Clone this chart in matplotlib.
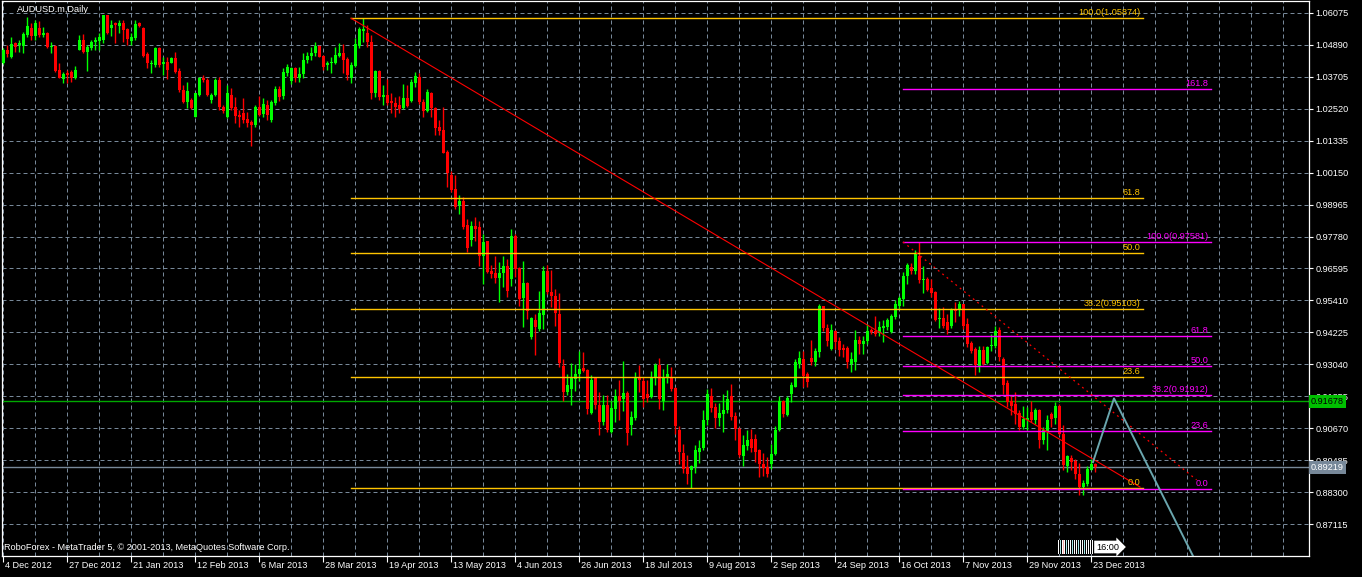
import numpy as np
import matplotlib
matplotlib.use('Agg')
import matplotlib.pyplot as plt
import matplotlib.transforms as mtransforms
from matplotlib.patches import Rectangle

plt.rcParams['font.family'] = ['Liberation Sans', 'DejaVu Sans']

# --- AUDUSD.m daily bars, 4 Dec 2012 .. 24 Dec 2013 ---
opens = [
    1.0420, 1.0471, 1.0442, 1.0496, 1.0487, 1.0484, 1.0524, 1.0549, 1.0521, 1.0549,
    1.0524, 1.0534, 1.0479, 1.0485, 1.0397, 1.0360, 1.0383, 1.0389, 1.0364, 1.0471,
    1.0506, 1.0463, 1.0475, 1.0500, 1.0503, 1.0508, 1.0598, 1.0549, 1.0568, 1.0559,
    1.0571, 1.0547, 1.0502, 1.0512, 1.0568, 1.0549, 1.0454, 1.0416, 1.0413, 1.0475,
    1.0416, 1.0423, 1.0422, 1.0441, 1.0391, 1.0321, 1.0278, 1.0284, 1.0220, 1.0302,
    1.0366, 1.0358, 1.0284, 1.0302, 1.0358, 1.0259, 1.0222, 1.0302, 1.0257, 1.0228,
    1.0237, 1.0214, 1.0204, 1.0191, 1.0257, 1.0232, 1.0265, 1.0210, 1.0274, 1.0325,
    1.0299, 1.0383, 1.0354, 1.0404, 1.0364, 1.0379, 1.0432, 1.0448, 1.0457, 1.0484,
    1.0447, 1.0413, 1.0420, 1.0422, 1.0447, 1.0460, 1.0436, 1.0364, 1.0410, 1.0484,
    1.0539, 1.0531, 1.0500, 1.0309, 1.0392, 1.0296, 1.0302, 1.0281, 1.0274, 1.0264,
    1.0253, 1.0290, 1.0281, 1.0348, 1.0370, 1.0278, 1.0244, 1.0309, 1.0255, 1.0185,
    1.0173, 1.0093, 1.0006, 0.9954, 0.9895, 0.9911, 0.9821, 0.9765, 0.9818, 0.9814,
    0.9707, 0.9760, 0.9651, 0.9642, 0.9624, 0.9642, 0.9670, 0.9621, 0.9781, 0.9660,
    0.9549, 0.9605, 0.9404, 0.9469, 0.9436, 0.9487, 0.9651, 0.9571, 0.9559, 0.9491,
    0.9297, 0.9201, 0.9213, 0.9250, 0.9269, 0.9290, 0.9284, 0.9123, 0.9254, 0.9155,
    0.9090, 0.9155, 0.9053, 0.9139, 0.9185, 0.9176, 0.9197, 0.9081, 0.9106, 0.9259,
    0.9244, 0.9195, 0.9183, 0.9257, 0.9303, 0.9170, 0.9254, 0.9259, 0.9217, 0.9060,
    0.8976, 0.8924, 0.8914, 0.8924, 0.8979, 0.8995, 0.9097, 0.9185, 0.9146, 0.9106,
    0.9119, 0.9134, 0.9185, 0.9111, 0.9066, 0.8963, 0.9000, 0.9029, 0.9029, 0.8986,
    0.8936, 0.8924, 0.8936, 0.8971, 0.9060, 0.9168, 0.9115, 0.9195, 0.9222, 0.9306,
    0.9325, 0.9267, 0.9327, 0.9313, 0.9350, 0.9519, 0.9440, 0.9362, 0.9427, 0.9390,
    0.9366, 0.9366, 0.9304, 0.9313, 0.9396, 0.9378, 0.9390, 0.9432, 0.9427, 0.9424,
    0.9440, 0.9442, 0.9424, 0.9479, 0.9519, 0.9547, 0.9633, 0.9664, 0.9652, 0.9704,
    0.9615, 0.9621, 0.9588, 0.9572, 0.9473, 0.9477, 0.9461, 0.9448, 0.9506, 0.9504,
    0.9526, 0.9452, 0.9383, 0.9362, 0.9294, 0.9356, 0.9309, 0.9371, 0.9371, 0.9430,
    0.9325, 0.9235, 0.9168, 0.9156, 0.9124, 0.9072, 0.9099, 0.9127, 0.9099, 0.9134,
    0.9023, 0.9057, 0.9119, 0.9106, 0.9148, 0.9047, 0.8926, 0.8958, 0.8946, 0.8897,
    0.8850, 0.8860, 0.8914, 0.8934,
]
highs = [
    1.0475, 1.0487, 1.0518, 1.0500, 1.0506, 1.0537, 1.0590, 1.0568, 1.0580, 1.0576,
    1.0555, 1.0537, 1.0500, 1.0487, 1.0420, 1.0389, 1.0395, 1.0397, 1.0410, 1.0524,
    1.0528, 1.0487, 1.0508, 1.0518, 1.0533, 1.0598, 1.0598, 1.0580, 1.0574, 1.0580,
    1.0580, 1.0549, 1.0531, 1.0580, 1.0574, 1.0553, 1.0463, 1.0432, 1.0479, 1.0479,
    1.0444, 1.0444, 1.0444, 1.0463, 1.0401, 1.0339, 1.0352, 1.0290, 1.0309, 1.0370,
    1.0376, 1.0364, 1.0311, 1.0367, 1.0370, 1.0265, 1.0339, 1.0327, 1.0294, 1.0247,
    1.0290, 1.0241, 1.0210, 1.0265, 1.0299, 1.0290, 1.0284, 1.0284, 1.0336, 1.0336,
    1.0401, 1.0417, 1.0407, 1.0407, 1.0407, 1.0459, 1.0463, 1.0479, 1.0500, 1.0487,
    1.0450, 1.0429, 1.0444, 1.0481, 1.0497, 1.0491, 1.0444, 1.0426, 1.0512, 1.0555,
    1.0587, 1.0561, 1.0524, 1.0397, 1.0395, 1.0339, 1.0360, 1.0309, 1.0296, 1.0299,
    1.0343, 1.0339, 1.0360, 1.0387, 1.0383, 1.0286, 1.0323, 1.0315, 1.0259, 1.0210,
    1.0257, 1.0099, 1.0019, 1.0006, 0.9933, 0.9923, 0.9843, 0.9837, 0.9851, 0.9837,
    0.9787, 0.9763, 0.9674, 0.9707, 0.9682, 0.9707, 0.9695, 0.9806, 0.9787, 0.9664,
    0.9686, 0.9608, 0.9479, 0.9491, 0.9575, 0.9670, 0.9674, 0.9654, 0.9584, 0.9568,
    0.9324, 0.9269, 0.9308, 0.9306, 0.9352, 0.9349, 0.9287, 0.9263, 0.9259, 0.9201,
    0.9192, 0.9189, 0.9170, 0.9213, 0.9247, 0.9316, 0.9205, 0.9131, 0.9275, 0.9300,
    0.9259, 0.9247, 0.9279, 0.9308, 0.9328, 0.9287, 0.9306, 0.9296, 0.9222, 0.9074,
    0.9010, 0.8967, 0.8930, 0.9004, 0.9022, 0.9134, 0.9214, 0.9218, 0.9161, 0.9161,
    0.9195, 0.9210, 0.9230, 0.9127, 0.9072, 0.9041, 0.9060, 0.9066, 0.9045, 0.8992,
    0.8976, 0.8961, 0.9010, 0.9074, 0.9185, 0.9173, 0.9185, 0.9239, 0.9325, 0.9353,
    0.9353, 0.9276, 0.9393, 0.9366, 0.9526, 0.9522, 0.9454, 0.9454, 0.9432, 0.9405,
    0.9380, 0.9371, 0.9350, 0.9432, 0.9408, 0.9408, 0.9454, 0.9440, 0.9482, 0.9464,
    0.9469, 0.9477, 0.9489, 0.9543, 0.9556, 0.9646, 0.9679, 0.9679, 0.9728, 0.9758,
    0.9670, 0.9627, 0.9621, 0.9575, 0.9514, 0.9516, 0.9492, 0.9514, 0.9535, 0.9538,
    0.9529, 0.9477, 0.9390, 0.9368, 0.9371, 0.9371, 0.9374, 0.9417, 0.9445, 0.9442,
    0.9331, 0.9247, 0.9185, 0.9201, 0.9136, 0.9148, 0.9146, 0.9168, 0.9143, 0.9140,
    0.9072, 0.9115, 0.9127, 0.9164, 0.9158, 0.9078, 0.8967, 0.8967, 0.8955, 0.8939,
    0.8875, 0.8926, 0.8955, 0.8939,
]
lows = [
    1.0417, 1.0444, 1.0438, 1.0463, 1.0463, 1.0459, 1.0518, 1.0506, 1.0506, 1.0518,
    1.0518, 1.0475, 1.0457, 1.0389, 1.0364, 1.0346, 1.0346, 1.0352, 1.0360, 1.0469,
    1.0459, 1.0391, 1.0469, 1.0469, 1.0471, 1.0494, 1.0528, 1.0521, 1.0494, 1.0531,
    1.0500, 1.0487, 1.0487, 1.0508, 1.0553, 1.0444, 1.0401, 1.0385, 1.0407, 1.0407,
    1.0376, 1.0360, 1.0420, 1.0383, 1.0315, 1.0272, 1.0253, 1.0249, 1.0220, 1.0299,
    1.0352, 1.0299, 1.0272, 1.0299, 1.0247, 1.0234, 1.0216, 1.0247, 1.0200, 1.0183,
    1.0197, 1.0183, 1.0114, 1.0185, 1.0225, 1.0222, 1.0210, 1.0204, 1.0265, 1.0281,
    1.0286, 1.0373, 1.0343, 1.0352, 1.0352, 1.0364, 1.0420, 1.0432, 1.0447, 1.0442,
    1.0395, 1.0397, 1.0385, 1.0417, 1.0444, 1.0385, 1.0358, 1.0348, 1.0407, 1.0475,
    1.0500, 1.0479, 1.0286, 1.0294, 1.0284, 1.0265, 1.0265, 1.0237, 1.0222, 1.0234,
    1.0249, 1.0259, 1.0278, 1.0331, 1.0269, 1.0222, 1.0239, 1.0222, 1.0154, 1.0154,
    1.0089, 0.9961, 0.9944, 0.9879, 0.9861, 0.9806, 0.9719, 0.9744, 0.9763, 0.9670,
    0.9602, 0.9642, 0.9624, 0.9605, 0.9534, 0.9590, 0.9555, 0.9596, 0.9627, 0.9522,
    0.9442, 0.9473, 0.9398, 0.9337, 0.9429, 0.9436, 0.9565, 0.9516, 0.9448, 0.9294,
    0.9170, 0.9189, 0.9155, 0.9207, 0.9244, 0.9275, 0.9121, 0.9121, 0.9139, 0.9044,
    0.9078, 0.9053, 0.9049, 0.9090, 0.9099, 0.9131, 0.9007, 0.9044, 0.9099, 0.9201,
    0.9146, 0.9164, 0.9180, 0.9229, 0.9139, 0.9136, 0.9234, 0.9205, 0.9047, 0.8936,
    0.8902, 0.8862, 0.8844, 0.8902, 0.8939, 0.8988, 0.9078, 0.9127, 0.9069, 0.9074,
    0.9053, 0.9124, 0.9097, 0.9025, 0.8961, 0.8926, 0.8986, 0.8979, 0.8942, 0.8887,
    0.8889, 0.8887, 0.8918, 0.8967, 0.9057, 0.9109, 0.9111, 0.9164, 0.9220, 0.9292,
    0.9220, 0.9220, 0.9300, 0.9297, 0.9331, 0.9427, 0.9374, 0.9356, 0.9362, 0.9334,
    0.9331, 0.9292, 0.9276, 0.9282, 0.9343, 0.9343, 0.9380, 0.9417, 0.9408, 0.9411,
    0.9387, 0.9430, 0.9420, 0.9473, 0.9510, 0.9522, 0.9603, 0.9640, 0.9640, 0.9605,
    0.9568, 0.9575, 0.9553, 0.9464, 0.9440, 0.9440, 0.9417, 0.9440, 0.9461, 0.9482,
    0.9436, 0.9368, 0.9346, 0.9263, 0.9276, 0.9300, 0.9304, 0.9353, 0.9366, 0.9316,
    0.9195, 0.9146, 0.9115, 0.9084, 0.9060, 0.9066, 0.9060, 0.9090, 0.9084, 0.8995,
    0.9008, 0.8986, 0.9072, 0.9084, 0.9041, 0.8912, 0.8905, 0.8912, 0.8881, 0.8819,
    0.8819, 0.8852, 0.8912, 0.8905,
]
closes = [
    1.0471, 1.0453, 1.0490, 1.0479, 1.0494, 1.0528, 1.0558, 1.0521, 1.0568, 1.0524,
    1.0533, 1.0479, 1.0484, 1.0391, 1.0366, 1.0380, 1.0376, 1.0364, 1.0395, 1.0506,
    1.0463, 1.0479, 1.0500, 1.0508, 1.0516, 1.0598, 1.0531, 1.0561, 1.0561, 1.0571,
    1.0545, 1.0510, 1.0518, 1.0565, 1.0559, 1.0448, 1.0422, 1.0420, 1.0475, 1.0413,
    1.0423, 1.0395, 1.0438, 1.0389, 1.0321, 1.0278, 1.0318, 1.0253, 1.0309, 1.0364,
    1.0358, 1.0302, 1.0302, 1.0358, 1.0257, 1.0243, 1.0309, 1.0253, 1.0225, 1.0222,
    1.0210, 1.0197, 1.0191, 1.0257, 1.0228, 1.0268, 1.0228, 1.0276, 1.0325, 1.0296,
    1.0387, 1.0407, 1.0404, 1.0364, 1.0379, 1.0434, 1.0447, 1.0459, 1.0484, 1.0444,
    1.0407, 1.0420, 1.0426, 1.0450, 1.0460, 1.0432, 1.0376, 1.0413, 1.0491, 1.0547,
    1.0547, 1.0500, 1.0311, 1.0392, 1.0294, 1.0302, 1.0272, 1.0274, 1.0259, 1.0249,
    1.0292, 1.0262, 1.0352, 1.0373, 1.0278, 1.0244, 1.0315, 1.0253, 1.0181, 1.0170,
    1.0089, 1.0015, 0.9951, 0.9889, 0.9911, 0.9814, 0.9734, 0.9818, 0.9806, 0.9707,
    0.9756, 0.9645, 0.9639, 0.9624, 0.9642, 0.9670, 0.9577, 0.9781, 0.9658, 0.9547,
    0.9605, 0.9501, 0.9475, 0.9442, 0.9494, 0.9651, 0.9574, 0.9559, 0.9494, 0.9308,
    0.9201, 0.9226, 0.9259, 0.9269, 0.9287, 0.9281, 0.9139, 0.9247, 0.9152, 0.9090,
    0.9152, 0.9059, 0.9143, 0.9185, 0.9170, 0.9197, 0.9049, 0.9109, 0.9259, 0.9247,
    0.9176, 0.9180, 0.9257, 0.9303, 0.9176, 0.9254, 0.9269, 0.9213, 0.9074, 0.8979,
    0.8918, 0.8899, 0.8926, 0.8986, 0.8995, 0.9097, 0.9193, 0.9143, 0.9106, 0.9124,
    0.9136, 0.9177, 0.9109, 0.9066, 0.8967, 0.9004, 0.9023, 0.8995, 0.8979, 0.8934,
    0.8921, 0.8897, 0.8973, 0.9062, 0.9168, 0.9119, 0.9180, 0.9226, 0.9313, 0.9329,
    0.9261, 0.9239, 0.9313, 0.9353, 0.9522, 0.9440, 0.9390, 0.9432, 0.9387, 0.9358,
    0.9358, 0.9313, 0.9325, 0.9396, 0.9380, 0.9390, 0.9427, 0.9424, 0.9417, 0.9442,
    0.9448, 0.9467, 0.9485, 0.9526, 0.9551, 0.9633, 0.9674, 0.9649, 0.9714, 0.9617,
    0.9617, 0.9578, 0.9568, 0.9469, 0.9477, 0.9448, 0.9432, 0.9506, 0.9501, 0.9526,
    0.9448, 0.9378, 0.9353, 0.9300, 0.9356, 0.9306, 0.9368, 0.9374, 0.9427, 0.9331,
    0.9226, 0.9164, 0.9148, 0.9119, 0.9072, 0.9103, 0.9106, 0.9097, 0.9134, 0.9025,
    0.9060, 0.9099, 0.9103, 0.9148, 0.9045, 0.8930, 0.8963, 0.8942, 0.8897, 0.8850,
    0.8865, 0.8918, 0.8934, 0.8922,
]

date_labels = ['4 Dec 2012', '27 Dec 2012', '21 Jan 2013', '12 Feb 2013', '6 Mar 2013',
               '28 Mar 2013', '19 Apr 2013', '13 May 2013', '4 Jun 2013', '26 Jun 2013',
               '18 Jul 2013', '9 Aug 2013', '2 Sep 2013', '24 Sep 2013', '16 Oct 2013',
               '7 Nov 2013', '29 Nov 2013', '23 Dec 2013']
price_ticks = [0.87115, 0.88300, 0.89485, 0.90670, 0.91855, 0.93040, 0.94225, 0.95410,
               0.96595, 0.97780, 0.98965, 1.00150, 1.01335, 1.02520, 1.03705, 1.04890, 1.06075]

# Fibonacci retracements: (bar_from, bar_to, price at 0 level, price at 100 level)
fib_levels_orange = [0.0, 23.6, 38.2, 50.0, 61.8, 100.0]
fib_orange = (87, 285, 0.88445, 1.05874)
fib_levels_magenta = [0.0, 23.6, 38.2, 50.0, 61.8, 100.0, 161.8]
fib_magenta = (225, 302, 0.88408, 0.97581)

# trend lines (bar, price)
trend_solid = [(87, 1.0587), (284.25, 0.88495)]
trend_dotted = [(225, 0.9758), (298.4, 0.8876)]
projection = [(272.5, 0.8942), (277.75, 0.9178), (300.0, 0.8520)]

bid_price = 0.89219
hline_price = 0.91678

# --- drawing ---
BG = 'black'
GRID = '#778899'
UP = '#00ff00'
DOWN = '#ff0000'
ORANGE = '#ffc400'
MAGENTA = '#ff00ff'
FS = 6.6
LW = 0.72   # 1 px at 100 dpi
LW_OBJ = 1.0

W, H = 1362, 577
fig = plt.figure(figsize=(W / 100, H / 100), dpi=100, facecolor=BG)
ax = fig.add_axes([2 / W, 21 / H, 1307 / W, 555 / H], facecolor=BG)
n = len(closes)
idx = np.arange(n)
o = np.array(opens)
c = np.array(closes)
hi = np.array(highs)
lo = np.array(lows)

ax.set_xlim(-0.25, 326.5)
ax.set_ylim(0.85938, 1.06509)

# grid
for p in price_ticks:
    ax.axhline(p, color=GRID, lw=LW, ls=(0, (4, 3)), zorder=0)
for k in range(0, 41):
    ax.axvline(8 * k, color=GRID, lw=LW, ls=(0, (4, 3)), zorder=0)

# candles: 1px wick, 3px body
col = np.where(c >= o, UP, DOWN)
ax.vlines(idx, lo, hi, colors=col, lw=LW_OBJ, zorder=3)
body = np.maximum(np.abs(c - o), 0.0004)
ax.bar(idx, body, bottom=np.minimum(o, c), width=0.75, color=col, lw=0, zorder=3)

# horizontal price lines
ax.axhline(hline_price, color='#00a800', lw=LW_OBJ, zorder=2)
ax.axhline(bid_price, color=GRID, lw=LW_OBJ, zorder=2)


def draw_fib(spec, levels, color, full_label):
    x0, x1, p0, p100 = spec
    for lv in levels:
        price = p0 + (p100 - p0) * lv / 100.0
        ax.plot([x0, x1], [price, price], color=color, lw=LW_OBJ, zorder=4)
        txt = f'{lv:.1f}'
        if lv in full_label:
            txt = f'{lv:.1f}({price:.5f})'
        ax.text(x1 - 0.6, price + 0.0004, txt, color=color, fontsize=FS,
                ha='right', va='bottom', zorder=5)


draw_fib(fib_orange, fib_levels_orange, ORANGE, (100.0, 38.2))
draw_fib(fib_magenta, fib_levels_magenta, MAGENTA, (100.0, 38.2))

ax.plot(*zip(*trend_solid), color=DOWN, lw=0.8, zorder=4)
ax.plot(*zip(*trend_dotted), color=DOWN, lw=0.9, ls=(0, (1.5, 3)), zorder=4)
ax.plot(*zip(*projection), color='#6aa6ae', lw=1.4, zorder=4)

# frame
for s in ax.spines.values():
    s.set_color('white')
    s.set_linewidth(0.9)

# price axis
ax.yaxis.tick_right()
ax.set_yticks(price_ticks)
ax.set_yticklabels([f'{p:.5f}' for p in price_ticks])
ax.tick_params(axis='y', colors='white', labelcolor='white', labelsize=FS,
               length=3, width=0.8, pad=1.5, direction='out')

# time axis
label_pos = [16 * k for k in range(len(date_labels))]
ax.set_xticks(label_pos)
ax.set_xticklabels([])
ax.tick_params(axis='x', colors='white', length=4, width=0.8, direction='out')
xt = mtransforms.blended_transform_factory(ax.transData, ax.transAxes)
for pos, lab in zip(label_pos, date_labels):
    ax.text(pos + 0.4, -0.017, lab, transform=xt, color='white', fontsize=FS,
            ha='left', va='center', clip_on=False)

# price boxes on the axis
yt = mtransforms.blended_transform_factory(ax.transAxes, ax.transData)
ax.text(1.0015, hline_price, f'{hline_price:.5f}', transform=yt, color='black',
        fontsize=FS, ha='left', va='center', zorder=10, clip_on=False,
        bbox=dict(boxstyle='square,pad=0.22', fc='#00c000', ec='none'))
ax.text(1.0015, bid_price, f'{bid_price:.5f}', transform=yt, color='white',
        fontsize=FS, ha='left', va='center', zorder=10, clip_on=False,
        bbox=dict(boxstyle='square,pad=0.22', fc=GRID, ec='none'))

# captions
fig.text(17 / W, 1 - 9 / H, 'AUDUSD.m,Daily', color='white', fontsize=FS,
         ha='left', va='center')
fig.text(4 / W, 1 - 548 / H,
         'RoboForex - MetaTrader 5, \u00a9 2001-2013, MetaQuotes Software Corp.',
         color='white', fontsize=FS, ha='left', va='center')

# bar countdown widget
stripes = ['white', 'black', '#a8e8e8', 'black', 'white', '#f4a6a6', 'white', 'black',
           '#a8e8e8', 'black', 'white', 'black', 'white', 'black', '#a8e8e8', 'black',
           'white', 'black', 'white', 'black', '#a8e8e8', 'black', 'white', 'black',
           'white', 'black', '#a8e8e8', 'black', 'white', 'black', 'white', 'black',
           'white', 'black', 'white']
for k, sc in enumerate(stripes):
    fig.patches.append(Rectangle(((1058 + k) / W, 1 - 554 / H), 1 / W, 14 / H,
                                 transform=fig.transFigure, fc=sc, ec='none'))
fig.text(1096 / W, 1 - 547 / H, '16:00', color='black', fontsize=FS, ha='left',
         va='center', bbox=dict(boxstyle='rarrow,pad=0.2', fc='white', ec='none'))

fig.savefig('out.png', dpi=100, facecolor=BG)
